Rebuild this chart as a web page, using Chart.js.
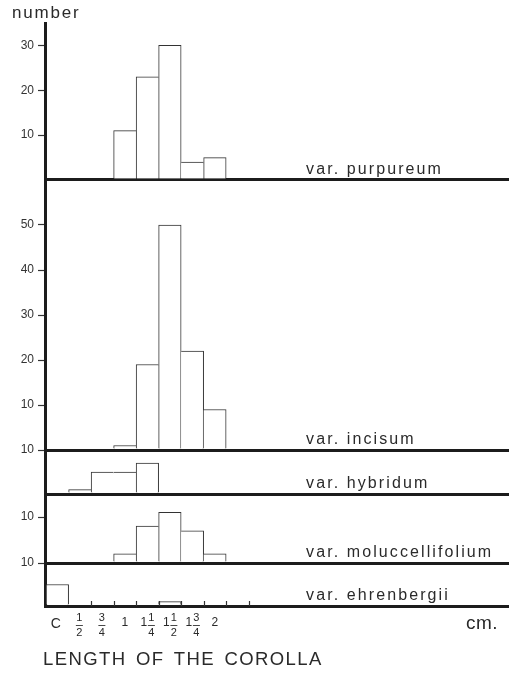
<!DOCTYPE html>
<html>
<head>
<meta charset="utf-8">
<script src="https://cdn.jsdelivr.net/npm/chart.js@4.4.1/dist/chart.umd.min.js"></script>
<style>
  html, body { margin: 0; padding: 0; background: #fff; }
  #wrap { position: relative; width: 514px; height: 675px; }
  #chart { position: absolute; left: 0; top: 0; }
  .lbl { position: absolute; font-family: "Liberation Sans", Arial, sans-serif; color: #2a2a2a; line-height: 1; white-space: nowrap; }
</style>
</head>
<body>
<div id="wrap">
  <canvas id="chart" width="514" height="675"></canvas>
  <div class="lbl" style="left:12px; top:4px; font-size:17px; letter-spacing:1.8px;">number</div>
  <div class="lbl" style="left:466px; top:613px; font-size:19px; letter-spacing:0.5px;">cm.</div>
  <div class="lbl" style="left:43px; top:650px; font-size:18.5px; letter-spacing:1.4px; word-spacing:3px;">LENGTH OF THE COROLLA</div>
</div>
<script>
// corolla length classes (cm), left to right
const bins = ['C', '1/2', '3/4', '1', '1 1/4', '1 1/2', '1 3/4', '2'];

// counts per class, one array per variety
const purpureum        = [0, 0, 0, 11, 23, 30, 4, 5];
const incisum          = [0, 0, 0, 1, 19, 50, 22, 9];
const hybridum         = [0, 1, 5, 5, 7, 0, 0, 0];
const moluccellifolium = [0, 0, 0, 2, 8, 11, 7, 2];
const ehrenbergii      = [5, 0, 0, 0, 0, 1, 0, 0];

const varietyNames = ['var. purpureum', 'var. incisum', 'var. hybridum',
                      'var. moluccellifolium', 'var. ehrenbergii'];

// y tick values per panel
const ticksPurpureum = [0, 10, 20, 30];
const ticksIncisum   = [0, 10, 20, 30, 40, 50];
const ticksHybridum  = [0, 10];
const ticksMolucc    = [0, 10];
const ticksEhrenb    = [0, 10];

const INK = '#1c1c1c';
const FONT = '"Liberation Sans", Arial, sans-serif';

// panels top -> bottom
const panels = [
  { id: 'yP', data: purpureum,        ticks: ticksPurpureum, max: 35, weight: 157 },
  { id: 'yI', data: incisum,          ticks: ticksIncisum,   max: 60, weight: 270 },
  { id: 'yH', data: hybridum,         ticks: ticksHybridum,  max: 10, weight: 44 },
  { id: 'yM', data: moluccellifolium, ticks: ticksMolucc,    max: 15, weight: 69 },
  { id: 'yE', data: ehrenbergii,      ticks: ticksEhrenb,    max: 10, weight: 43 }
];

// draw a shared edge only once, on the taller bar; equal neighbours merge
function edgeWidths(ctx) {
  const d = ctx.dataset.counts;
  const i = ctx.dataIndex;
  const v = d[i];
  const prev = i > 0 ? d[i - 1] : 0;
  const next = i < d.length - 1 ? d[i + 1] : 0;
  return { top: 1, bottom: 0, left: v > prev ? 1 : 0, right: v > next ? 1 : 0 };
}

const datasets = panels.map((p, k) => ({
  label: varietyNames[k],
  counts: p.data,
  data: p.data.map((v, i) => ({ x: i + 0.5, y: v === 0 ? null : v })),
  yAxisID: p.id,
  backgroundColor: '#ffffff',
  borderColor: '#333',
  borderWidth: edgeWidths,
  borderSkipped: false,
  barPercentage: 1,
  categoryPercentage: 1,
  grouped: false
}));

function yScale(p) {
  return {
    type: 'linear',
    position: 'left',
    stack: 'panels',
    stackWeight: p.weight,
    min: 0,
    max: p.max,
    afterBuildTicks: s => { s.ticks = p.ticks.map(v => ({ value: v })); },
    afterFit: s => { s.width = 45; },
    border: { display: true, color: INK, width: 3 },
    grid: {
      drawOnChartArea: true,
      color: c => c.tick && c.tick.value === 0 ? INK : 'rgba(0,0,0,0)',
      lineWidth: c => c.tick && c.tick.value === 0 ? 3 : 1,
      tickColor: c => c.tick && c.tick.value === 0 ? 'rgba(0,0,0,0)' : '#333',
      tickWidth: 1.2,
      tickLength: 7
    },
    ticks: {
      padding: 4,
      color: '#333',
      font: { family: FONT, size: 12 },
      callback: v => v === 0 ? '' : String(v)
    }
  };
}

// stacked axes are laid out last-defined on top, so add bottom panel first
const scales = {
  x: { type: 'linear', display: false, offset: false, grid: { offset: false }, min: -0.05, max: 20.57 }
};
panels.slice().reverse().forEach(p => { scales[p.id] = yScale(p); });

const labelPlugin = {
  id: 'corollaLabels',
  afterDraw(chart) {
    const ctx = chart.ctx;
    const xs = chart.scales.x;
    const base = chart.scales.yE.getPixelForValue(0);
    ctx.save();
    ctx.fillStyle = '#2a2a2a';
    ctx.strokeStyle = '#333';

    // variety names above each baseline
    ctx.font = '16px ' + FONT;
    ctx.letterSpacing = '2.1px';
    ctx.textAlign = 'left';
    ctx.textBaseline = 'alphabetic';
    panels.forEach((p, k) => {
      const y = chart.scales[p.id].getPixelForValue(0) - 6;
      ctx.fillText(varietyNames[k], xs.getPixelForValue(11.55), y);
    });
    ctx.letterSpacing = '0px';

    // small ticks at class boundaries
    ctx.lineWidth = 1.2;
    for (let e = 2; e <= 9; e++) {
      const x = Math.round(xs.getPixelForValue(e)) + 0.5;
      ctx.beginPath();
      ctx.moveTo(x, base);
      ctx.lineTo(x, base - 5);
      ctx.stroke();
    }

    // class labels, fractions stacked
    ctx.textAlign = 'center';
    ctx.textBaseline = 'middle';
    const frac = (num, den, cx) => {
      ctx.font = '11px ' + FONT;
      ctx.fillText(num, cx, base + 12);
      ctx.fillText(den, cx, base + 27);
      ctx.lineWidth = 0.9;
      ctx.beginPath();
      ctx.moveTo(cx - 3.5, base + 19.5);
      ctx.lineTo(cx + 3.5, base + 19.5);
      ctx.stroke();
    };
    bins.forEach((b, i) => {
      const cx = xs.getPixelForValue(i + 0.5);
      const parts = b.split(' ');
      if (b === 'C') {
        ctx.font = '14px ' + FONT;
        ctx.fillText(b, cx - 1.5, base + 18);
      } else if (parts.length === 2) {
        const [n, d] = parts[1].split('/');
        ctx.font = '12px ' + FONT;
        ctx.fillText(parts[0], cx - 3.5, base + 17);
        frac(n, d, cx + 4);
      } else if (b.includes('/')) {
        const [n, d] = b.split('/');
        frac(n, d, cx - 0.5);
      } else {
        ctx.font = '12px ' + FONT;
        ctx.fillText(b, cx, base + 17);
      }
    });
    ctx.restore();
  }
};

new Chart(document.getElementById('chart'), {
  type: 'bar',
  data: { datasets },
  options: {
    responsive: false,
    animation: false,
    layout: { padding: { top: 23, right: 5, bottom: 69, left: 0 } },
    scales,
    plugins: {
      legend: { display: false },
      tooltip: { enabled: false }
    }
  },
  plugins: [labelPlugin]
});
</script>
</body>
</html>
